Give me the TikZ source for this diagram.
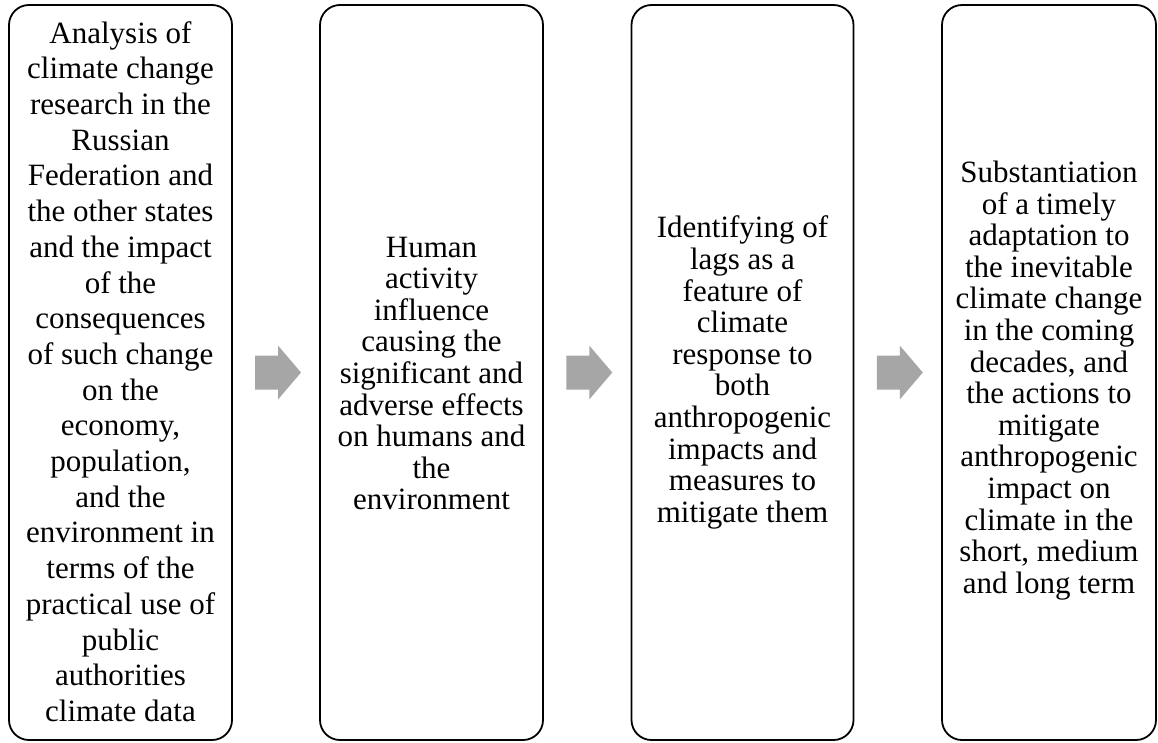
\documentclass[tikz,border=0pt]{standalone}
\usepackage{fontspec}
\setmainfont{Liberation Serif}
\usetikzlibrary{calc}
\definecolor{arrowgray}{RGB}{166,166,166}
\tikzset{
  stagebox/.style={draw=black, line width=1.8pt, rounded corners=20pt,
    minimum height=735pt, inner sep=0pt},
  stagetext/.style={align=center, inner sep=0pt,
    font=\fontsize{31}{31.6}\selectfont},
  longtext/.style={font=\fontsize{31}{35.7}\selectfont},
  flowarrow/.style={fill=arrowgray, draw=none}
}
\begin{document}
\begin{tikzpicture}[x=1pt, y=-1pt]
\useasboundingbox (0,0) rectangle (1158,742);

% the four stage frames
\node[stagebox, minimum width=223pt] (b1) at (120.5,372.5) {};
\node[stagebox, minimum width=223pt] (b2) at (431.5,372.5) {};
\node[stagebox, minimum width=222pt] (b3) at (742.5,372.5) {};
\node[stagebox, minimum width=214pt] (b4) at (1049,372.5) {};

% stage texts
\node[stagetext, longtext] (t1) at ($(b1.center)+(0,-1)$) {Analysis of\\climate change\\research in the\\Russian\\Federation and\\the other states\\and the impact\\of the\\consequences\\of such change\\on the\\economy,\\population,\\and the\\environment in\\terms of the\\practical use of\\public\\authorities\\climate data};

\node[stagetext] (t2) at ($(b2.center)+(0,1)$) {Human\\activity\\influence\\causing the\\significant and\\adverse effects\\on humans and\\the\\environment};

\node[stagetext] (t3) at ($(b3.center)+(0,0)$) {Identifying of\\lags as a\\feature of\\climate\\response to\\both\\anthropogenic\\impacts and\\measures to\\mitigate them};

\node[stagetext] (t4) at ($(b4.center)+(0,8)$) {Substantiation\\of a timely\\adaptation to\\the inevitable\\climate change\\in the coming\\decades, and\\the actions to\\mitigate\\anthropogenic\\impact on\\climate in the\\short, medium\\and long term};

% block arrows between consecutive stages
\foreach \a/\b in {b1/b2, b2/b3, b3/b4}{
  \coordinate (m) at ($(\a.east)!0.5!(\b.west)+(2,0)$);
  \fill[flowarrow] ($(m)+(-23,-17)$) -- ($(m)+(0,-17)$) -- ($(m)+(0,-27)$)
    -- ($(m)+(23,0)$) -- ($(m)+(0,27)$) -- ($(m)+(0,17)$)
    -- ($(m)+(-23,17)$) -- cycle;
}
\end{tikzpicture}
\end{document}
